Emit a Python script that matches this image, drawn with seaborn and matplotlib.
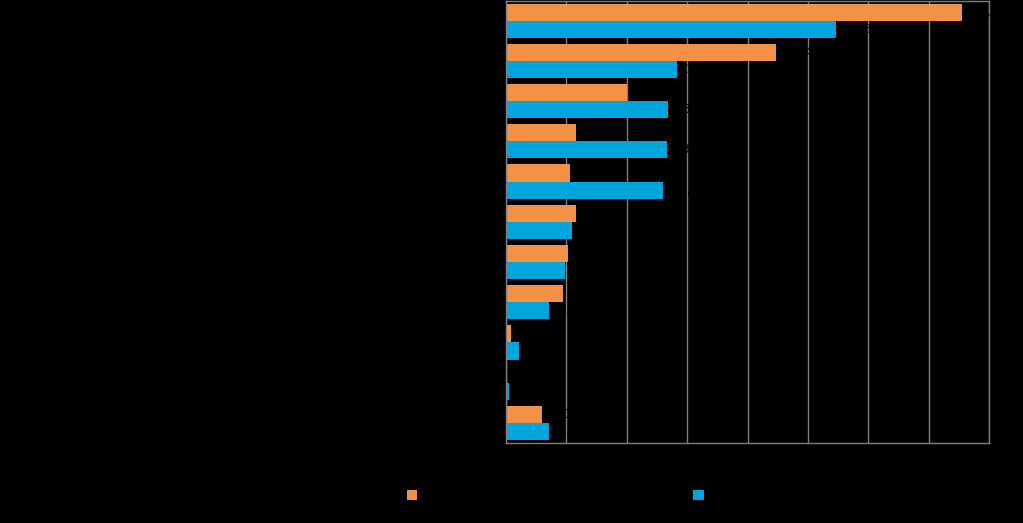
import matplotlib
matplotlib.use("Agg")
import matplotlib.pyplot as plt
import seaborn as sns
import pandas as pd

categories = ["Category 1", "Category 2", "Category 3", "Category 4", "Category 5",
              "Category 6", "Category 7", "Category 8", "Category 9", "Category 10",
              "Category 11"]
series_names = ["Series A", "Series B"]
values_a = [37.8, 22.4, 10.0, 5.8, 5.3, 5.8, 5.1, 4.7, 0.4, 0.0, 3.0]
values_b = [27.3, 14.2, 13.4, 13.3, 13.0, 5.5, 4.9, 3.6, 1.1, 0.25, 3.6]
x_ticks = [0, 5, 10, 15, 20, 25, 30, 35, 40]

df = pd.DataFrame({
    "category": categories * 2,
    "series": [series_names[0]] * len(categories) + [series_names[1]] * len(categories),
    "value": values_a + values_b,
})

sns.set_theme(style="white")
plt.rcParams["font.family"] = ["DejaVu Sans"]

fig = plt.figure(figsize=(10.23, 5.23), dpi=100, facecolor="black")
ax = fig.add_axes([506 / 1023, 1 - 443 / 523, (989 - 506) / 1023, 443 / 523 - 0.001])
ax.set_facecolor("black")

palette = {series_names[0]: "#F39147", series_names[1]: "#00A5DE"}
sns.barplot(data=df, y="category", x="value", hue="series", order=categories,
            hue_order=series_names, palette=palette, orient="h", width=0.85,
            saturation=1, ax=ax, legend=True, linewidth=0, edgecolor="none")

ax.set_xlim(0, 40)
ax.set_xticks(x_ticks)
ax.set_xticklabels([str(t) for t in x_ticks], color="black", fontsize=10)
ax.tick_params(axis="y", colors="black", labelsize=10, length=0)
ax.tick_params(axis="x", length=0)
ax.set_xlabel("")
ax.set_ylabel("")
ax.grid(axis="x", color="#7f7f7f", linewidth=1)
ax.set_axisbelow(True)
for s in ax.spines.values():
    s.set_color("#7f7f7f")
    s.set_linewidth(1)

for cont in ax.containers:
    labels = [f"{v:.1f}".replace(".", ",") if v > 0 else "" for v in cont.datavalues]
    ax.bar_label(cont, labels=labels, padding=6, color="black", fontsize=9)

ax.get_legend().remove()
handles, labels = ax.get_legend_handles_labels()
fig.legend(handles, labels, loc="center left", bbox_to_anchor=(407 / 1023, 1 - 496 / 523),
           ncol=2, frameon=False, borderpad=0, borderaxespad=0, handlelength=0.75,
           handleheight=0.75, handletextpad=0.5, columnspacing=15.3,
           fontsize=10, labelcolor="black")

fig.savefig("out.png", dpi=100, facecolor="black")
